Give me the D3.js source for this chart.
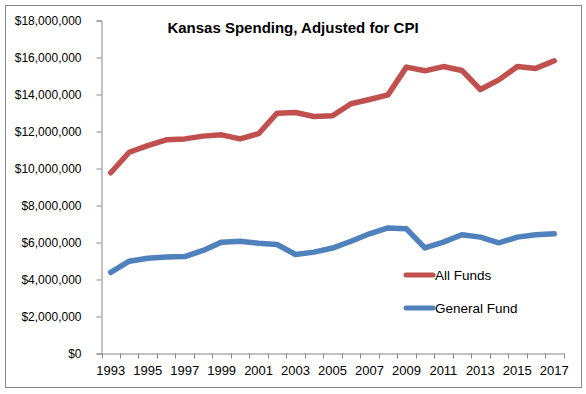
<!DOCTYPE html>
<html>
<head>
<meta charset="utf-8">
<script src="https://cdn.jsdelivr.net/npm/d3@7"></script>
<style>
  body { margin: 0; background: #fff; }
  text { font-family: "Liberation Sans", Arial, sans-serif; fill: #000; }
</style>
</head>
<body>
<svg width="586" height="394"></svg>
<script>
// chart data
var years = ["1993","1994","1995","1996","1997","1998","1999","2000","2001","2002","2003","2004","2005",
             "2006","2007","2008","2009","2010","2011","2012","2013","2014","2015","2016","2017"];
var allFunds = [9.77, 10.88, 11.24, 11.55, 11.6, 11.75, 11.82, 11.6, 11.88, 12.99, 13.03, 12.81, 12.85,
                13.5, 13.73, 13.98, 15.48, 15.28, 15.51, 15.3, 14.27, 14.79, 15.51, 15.41, 15.82];
var generalFund = [4.39, 4.99, 5.15, 5.21, 5.24, 5.57, 6.02, 6.07, 5.96, 5.89, 5.35, 5.48, 5.7,
                   6.07, 6.47, 6.79, 6.74, 5.71, 6.02, 6.42, 6.29, 5.98, 6.29, 6.42, 6.47];
var yTicks = [0, 2, 4, 6, 8, 10, 12, 14, 16, 18];
var xLabels = ["1993","1995","1997","1999","2001","2003","2005","2007","2009","2011","2013","2015","2017"];
var seriesNames = ["All Funds", "General Fund"];
var colors = ["#C0504D", "#4F81BD"];

var svg = d3.select("svg");

// outer chart border
svg.append("rect")
  .attr("x", 5.5).attr("y", 5.5)
  .attr("width", 576).attr("height", 382)
  .attr("fill", "#fff")
  .attr("stroke", "#878787");

var x = d3.scaleBand().domain(years).range([101.5, 563.5]);
var y = d3.scaleLinear().domain([0, 18]).range([353.5, 20.5]);

// y axis
var yAxis = svg.append("g")
  .attr("transform", "translate(101.5,0)")
  .call(d3.axisLeft(y).tickValues(yTicks).tickSize(5).tickPadding(15)
    .tickFormat(function(d) { return d3.format("$,")(d * 1000000); }));
yAxis.selectAll("text").style("font-size", "12px");

// x axis: labels on odd years, tick marks on category boundaries
var xAxis = svg.append("g")
  .attr("transform", "translate(0,353.5)")
  .call(d3.axisBottom(x).tickValues(xLabels).tickSize(0).tickPadding(12));
xAxis.selectAll("text").style("font-size", "13px");
xAxis.selectAll(".tick line").remove();
xAxis.selectAll("boundary")
  .data(years.concat(["end"]))
  .enter()
  .append("line")
  .attr("x1", function(d, i) { return Math.round(x.range()[0] + i * x.step()) + 0.5; })
  .attr("x2", function(d, i) { return Math.round(x.range()[0] + i * x.step()) + 0.5; })
  .attr("y1", 0).attr("y2", 5)
  .attr("stroke", "#878787");

svg.selectAll(".domain").attr("stroke", "#878787");
yAxis.selectAll(".tick line").attr("stroke", "#878787");

// lines
var line = d3.line()
  .x(function(d, i) { return x(years[i]) + x.bandwidth() / 2; })
  .y(function(d) { return y(d); });

[allFunds, generalFund].forEach(function(s, k) {
  svg.append("path")
    .datum(s)
    .attr("d", line)
    .attr("fill", "none")
    .attr("stroke", colors[k])
    .attr("stroke-width", 5.5)
    .attr("stroke-linejoin", "round")
    .attr("stroke-linecap", "round");
});

// legend
var legend = svg.append("g").selectAll("g")
  .data(seriesNames)
  .enter()
  .append("g")
  .attr("transform", function(d, i) { return "translate(404," + (275 + i * 33) + ")"; });
legend.append("line")
  .attr("x1", 2).attr("x2", 29)
  .attr("stroke", function(d, i) { return colors[i]; })
  .attr("stroke-width", 5)
  .attr("stroke-linecap", "round");
legend.append("text")
  .attr("x", 31).attr("y", 4.5)
  .style("font-size", "13.5px")
  .text(function(d) { return d; });

// title
svg.append("text")
  .attr("x", 293).attr("y", 32.5)
  .attr("text-anchor", "middle")
  .style("font-size", "15px")
  .style("font-weight", "bold")
  .text("Kansas Spending, Adjusted for CPI");
</script>
</body>
</html>
